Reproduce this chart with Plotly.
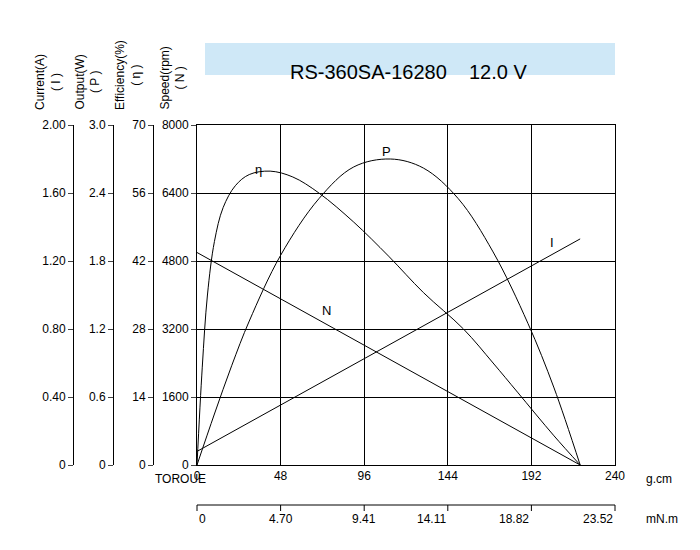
import plotly.graph_objects as go

# data (torque in g.cm)
torque_n = [0, 220]
speed_rpm = [5000, 0]
torque_i = [0, 220]
current_a = [0.08, 1.33]
torque_p = [0, 10, 20, 30, 48, 70, 90, 111, 130, 150, 170, 190, 205, 220]
output_w = [0, 0.45, 0.88, 1.27, 1.85, 2.35, 2.63, 2.70, 2.62, 2.35, 1.88, 1.25, 0.68, 0]
torque_e = [0, 3, 6, 10, 15, 22, 30, 42, 55, 70, 90, 110, 130, 153, 170, 184, 205, 220]
eff_pct = [0, 20, 35, 46, 53, 57.5, 59.8, 60.5, 59.3, 56, 50, 43, 35.5, 28, 21, 15, 6, 0]
mnm_labels = ["0", "4.70", "9.41", "14.11", "18.82", "23.52"]
gcm_ticks = [0, 48, 96, 144, 192, 240]

L, R, T, B = 10, 93, 117, 93
W, H = 700, 550
pw, ph = W - L - R, H - T - B
px = lambda x: (x - L) / pw
py = lambda y: (H - B - y) / ph

fig = go.Figure()
line = dict(color="black", width=1)
fig.add_trace(go.Scatter(x=torque_n, y=speed_rpm, mode="lines", line=line, yaxis="y"))
fig.add_trace(go.Scatter(x=torque_i, y=current_a, mode="lines", line=line, yaxis="y2"))
fig.add_trace(go.Scatter(x=torque_p, y=output_w, mode="lines", line=dict(color="black", width=1, shape="spline"), yaxis="y3"))
fig.add_trace(go.Scatter(x=torque_e, y=eff_pct, mode="lines", line=dict(color="black", width=1, shape="spline"), yaxis="y4"))

font = dict(family="Liberation Sans, Arial", size=12, color="black")
side = dict(showgrid=False, ticks="outside", ticklen=5, showline=True, linecolor="black",
            anchor="free", overlaying="y", side="left", tickfont=font, zeroline=False)
fig.update_layout(
    width=W, height=H, margin=dict(l=L, r=R, t=T, b=B, autoexpand=False), showlegend=False,
    plot_bgcolor="white", paper_bgcolor="white", font=font,
    xaxis=dict(domain=[px(189), 1], range=[0, 240], tickvals=gcm_ticks, showgrid=True,
               gridcolor="black", gridwidth=1, showline=True, linecolor="black", mirror=True,
               zeroline=False, ticks="", tickfont=font, automargin=False),
    yaxis=dict(range=[0, 8000], tickvals=[0, 1600, 3200, 4800, 6400, 8000], showgrid=True,
               gridcolor="black", showline=True, linecolor="black", mirror=True, zeroline=False,
               ticks="outside", ticklen=5, tickfont=font, automargin=False),
    yaxis2=dict(side, range=[0, 2.0], tickvals=[0, 0.4, 0.8, 1.2, 1.6, 2.0],
                ticktext=["0", "0.40", "0.80", "1.20", "1.60", "2.00"], position=px(65)),
    yaxis3=dict(side, range=[0, 3.0], tickvals=[0, 0.6, 1.2, 1.8, 2.4, 3.0],
                ticktext=["0", "0.6", "1.2", "1.8", "2.4", "3.0"], position=px(105)),
    yaxis4=dict(side, range=[0, 70], tickvals=[0, 14, 28, 42, 56, 70], position=px(145)),
)

anns = [
    ("Current(A)<br>( I )", 40), ("Output(W)<br>( P )", 80),
    ("Efficiency(%)<br>( η )", 120), ("Speed(rpm)<br>( N )", 165),
]
for txt, x in anns:
    fig.add_annotation(x=px(x), y=py(104), xref="paper", yref="paper", text=txt, textangle=-90,
                       showarrow=False, xanchor="center", yanchor="bottom", font=font)
for txt, x, y in [("η", 250, 152), ("P", 378, 134), ("I", 548, 225), ("N", 318, 302)]:
    fig.add_annotation(x=px(x), y=py(y), xref="paper", yref="paper", text=txt, showarrow=False,
                       font=dict(font, size=13))

# title banner
fig.add_shape(type="rect", xref="paper", yref="paper", x0=px(197), x1=px(607), y0=py(67), y1=py(35),
              fillcolor="#cfe8f7", line_width=0, layer="below")
fig.add_annotation(x=px(400), y=py(51), xref="paper", yref="paper",
                   text="RS-360SA-16280    12.0 V", showarrow=False, font=dict(font, size=20))

fig.add_annotation(x=px(145), y=py(480), xref="paper", yref="paper", text="TOROUE",
                   showarrow=False, font=font)
fig.add_annotation(x=px(636), y=py(480), xref="paper", yref="paper", text="g.cm",
                   showarrow=False, font=font, xanchor="left")
fig.add_annotation(x=px(636), y=py(520), xref="paper", yref="paper", text="mN.m",
                   showarrow=False, font=font, xanchor="left")

# second torque scale (mN.m) below the plot
fig.add_shape(type="line", xref="paper", yref="paper", x0=px(189), x1=1, y0=py(497), y1=py(497),
              line=line)
for t, lab in zip(gcm_ticks, mnm_labels):
    xp = px(189) + (1 - px(189)) * t / 240
    fig.add_shape(type="line", xref="paper", yref="paper", x0=xp, x1=xp, y0=py(497), y1=py(503),
                  line=line)
    fig.add_annotation(x=xp, y=py(520), xref="paper", yref="paper", text=lab, showarrow=False,
                       font=font)

fig.write_html("out.html")
